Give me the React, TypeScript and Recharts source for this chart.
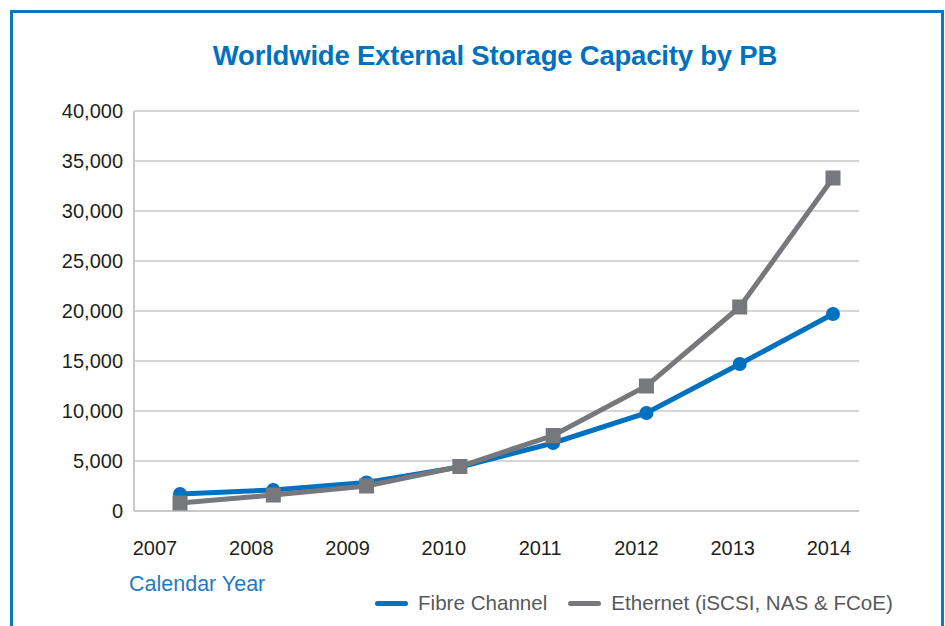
import { LineChart, Line, XAxis, YAxis, CartesianGrid } from "recharts";

const years = ["2007", "2008", "2009", "2010", "2011", "2012", "2013", "2014"];
const fibreChannel = [1700, 2100, 2850, 4400, 6800, 9800, 14700, 19700];
const ethernet = [800, 1600, 2500, 4450, 7550, 12500, 20400, 33300];
const yTicks = [0, 5000, 10000, 15000, 20000, 25000, 30000, 35000, 40000];

const BLUE = "#0071bf";
const GRAY = "#77787b";
const FONT = "'Liberation Sans', Arial, sans-serif";

const series = [
  { key: "fibre", name: "Fibre Channel", color: BLUE },
  { key: "ethernet", name: "Ethernet (iSCSI, NAS & FCoE)", color: GRAY },
];

const chartData = years.map((year, i) => ({
  year,
  fibre: fibreChannel[i],
  ethernet: ethernet[i],
}));

const SquareDot = (props: any) => {
  const { cx, cy } = props;
  if (cx == null || cy == null) return null;
  return <rect x={cx - 7.5} y={cy - 7.5} width={15} height={15} fill={GRAY} />;
};

const App = () => {
  return (
    <div
      style={{
        position: "absolute",
        left: 0,
        top: 0,
        width: 945,
        height: 626,
        background: "#fff",
        overflow: "hidden",
        fontFamily: FONT,
      }}
    >
      <div
        style={{
          position: "absolute",
          left: 10,
          top: 10,
          width: 928,
          height: 700,
          border: "3px solid #0a77c2",
        }}
      />
      <div
        style={{
          position: "absolute",
          left: 0,
          width: 990,
          top: 40,
          textAlign: "center",
          fontSize: 27.5,
          fontWeight: 700,
          color: BLUE,
          fontFamily: FONT,
          whiteSpace: "nowrap",
          letterSpacing: -0.2,
        }}
      >
        Worldwide External Storage Capacity by PB
      </div>

      <div style={{ position: "absolute", left: 0, top: 0 }}>
        <LineChart
          width={945}
          height={626}
          data={chartData}
          margin={{ top: 111, right: 86, bottom: 75, left: 14 }}
        >
          <CartesianGrid vertical={false} stroke="#c9c9c9" strokeWidth={1.5} />
          <XAxis dataKey="year" xAxisId="pts" hide padding={{ left: 46, right: 26 }} />
          <XAxis
            dataKey="year"
            xAxisId="lbl"
            height={40}
            padding={{ left: 21, right: 30 }}
            tickLine={false}
            tickSize={0}
            tickMargin={30}
            axisLine={{ stroke: "#c9c9c9", strokeWidth: 2 }}
            tick={{ fontSize: 20, fill: "#231f20", fontFamily: FONT }}
            interval={0}
          />
          <YAxis
            width={120}
            domain={[0, 40000]}
            ticks={yTicks}
            interval={0}
            tickLine={false}
            tickSize={0}
            tickMargin={11}
            axisLine={{ stroke: "#c9c9c9", strokeWidth: 2 }}
            tick={{ fontSize: 20, fill: "#231f20", fontFamily: FONT }}
            tickFormatter={(v: number) => v.toLocaleString("en-US")}
          />
          <Line
            xAxisId="pts"
            dataKey="fibre"
            name="Fibre Channel"
            stroke={BLUE}
            strokeWidth={5}
            dot={{ r: 7, fill: BLUE, stroke: "none" }}
            isAnimationActive={false}
          />
          <Line
            xAxisId="pts"
            dataKey="ethernet"
            name="Ethernet (iSCSI, NAS & FCoE)"
            stroke={GRAY}
            strokeWidth={5}
            dot={<SquareDot />}
            isAnimationActive={false}
          />
        </LineChart>
      </div>

      <div
        style={{
          position: "absolute",
          left: 129,
          top: 572,
          fontSize: 21.5,
          color: "#1f7bc1",
        }}
      >
        Calendar Year
      </div>

      <div
        style={{
          position: "absolute",
          left: 375,
          top: 591,
          display: "flex",
          alignItems: "center",
          fontSize: 20.6,
          color: "#58595b",
          whiteSpace: "nowrap",
        }}
      >
        {series.map((s, i) => (
          <div
            key={s.key}
            style={{ display: "flex", alignItems: "center", marginLeft: i === 0 ? 0 : 21 }}
          >
            <div
              style={{
                width: 33,
                height: 5,
                borderRadius: 2.5,
                background: s.color,
                marginRight: 10,
              }}
            />
            <span>{s.name}</span>
          </div>
        ))}
      </div>
    </div>
  );
};

export default App;
